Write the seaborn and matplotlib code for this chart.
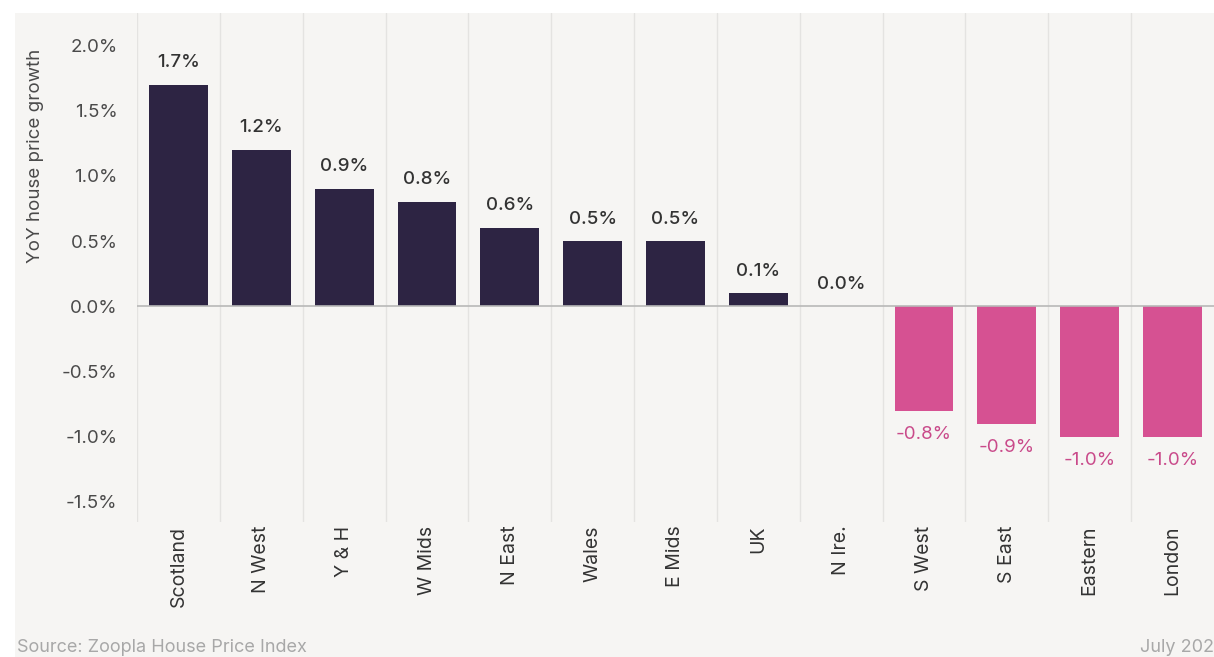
import matplotlib
matplotlib.use("Agg")
import matplotlib.pyplot as plt
import seaborn as sns
import pandas as pd
from matplotlib.patches import Rectangle

categories = ["Scotland", "N West", "Y & H", "W Mids", "N East", "Wales", "E Mids",
              "UK", "N Ire.", "S West", "S East", "Eastern", "London"]
values = [1.7, 1.2, 0.9, 0.8, 0.6, 0.5, 0.5, 0.1, 0.0, -0.8, -0.9, -1.0, -1.0]
y_ticks = [-1.5, -1.0, -0.5, 0.0, 0.5, 1.0, 1.5, 2.0]
source_text = "Source: Zoopla House Price Index"
date_text = "July 202"
y_label = "YoY house price growth"

NAVY = "#2d2443"
PINK = "#d65192"
BG = "#f6f5f3"

sns.set_theme(style="white")
plt.rcParams["font.family"] = ["Inter", "DejaVu Sans"]

df = pd.DataFrame({"region": categories, "growth": values})
df["sign"] = ["neg" if v < 0 else "pos" for v in values]

fig = plt.figure(figsize=(12.14, 6.57), dpi=100, facecolor="white")
fig.patches.append(Rectangle((15 / 1214, 0), 1, 1 - 13 / 657, transform=fig.transFigure,
                             facecolor=BG, edgecolor="none", zorder=-10))
ax = fig.add_axes([137 / 1214, (657 - 521.5) / 657, 1 - 137 / 1214, (521.5 - 13) / 657])
ax.set_zorder(1)
ax.patch.set_alpha(0)

sns.barplot(data=df, x="region", y="growth", hue="sign",
            palette={"pos": NAVY, "neg": PINK}, dodge=False, width=0.71,
            legend=False, ax=ax, saturation=1, edgecolor=None, linewidth=0)

ax.set_xlim(-0.5, len(categories) - 0.5)
ax.set_ylim(-1.65, 2.25)
ax.set_yticks(y_ticks)
ax.set_yticklabels([f"{t:.1f}%" for t in y_ticks], fontsize=13.5, color="#4a4a4a")
ax.tick_params(axis="y", length=0, pad=14)
ax.tick_params(axis="x", length=0, pad=3)
ax.set_xticks(range(len(categories)))
ax.set_xticklabels(categories, rotation=90, fontsize=14, color="#333333")
ax.set_xlabel("")
ax.set_ylabel(y_label, fontsize=13.5, color="#4a4a4a")
ax.yaxis.set_label_coords(-0.086, 0.72)

for s in ax.spines.values():
    s.set_visible(False)

for i in range(len(categories)):
    ax.axvline(i - 0.5, color="#e4e3e1", lw=1, zorder=0)
ax.axhline(0, color="#b8b8b8", lw=1.2, zorder=3)

for i, v in enumerate(values):
    if v >= 0:
        ax.text(i, v + 0.17, f"{v:.1f}%", ha="center", va="center",
                fontsize=13.5, color="#333333", fontweight="medium")
    else:
        ax.text(i, v - 0.18, f"{v:.1f}%", ha="center", va="center",
                fontsize=13.5, color="#c94a8a")

fig.text(17 / 1214, 1 - 648 / 657, source_text, fontsize=13, color="#a8a8a8", va="center")
fig.text(1, 1 - 648 / 657, date_text, fontsize=13, color="#a8a8a8", va="center", ha="right")

fig.savefig("out.png", dpi=100, facecolor=fig.get_facecolor())
